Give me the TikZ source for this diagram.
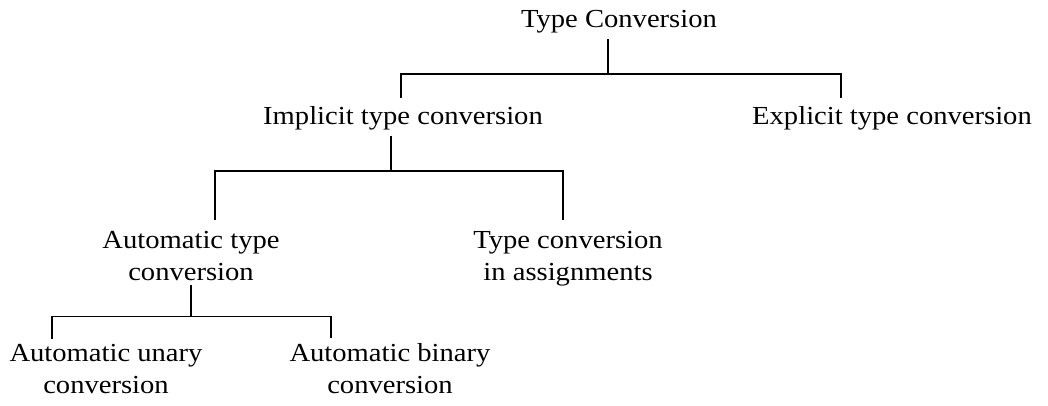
\documentclass[tikz,border=0pt]{standalone}
\usepackage{fontspec}
\setmainfont{Liberation Serif}[FakeStretch=1.1]
\usetikzlibrary{positioning}
\tikzstyle{lbl} = [
	align=center,
	anchor=base,
	inner sep=5pt,
	font=\fontsize{26}{32}\selectfont
	]
\tikzstyle{link} = [
	line width=1.6pt,
	draw
	]

\begin{document}
\begin{tikzpicture}[x=1pt,y=-1pt]
		\useasboundingbox (0,0) rectangle (1048,406);
		\node[lbl] (root) at (619,28) {Type Conversion};
		\node[lbl] (impl) at (403,125) {Implicit type conversion};
		\node[lbl] (expl) at (892,125) {Explicit type conversion};
		\node[lbl] (auto) at (191,280) {Automatic type\\conversion};
		\node[lbl] (assign) at (568,280) {Type conversion\\in assignments};
		\node[lbl] (unary) at (106,393) {Automatic unary\\conversion};
		\node[lbl] (binary) at (390,393) {Automatic binary\\conversion};
		\draw[link] ([xshift=-11pt]root.south) -- ++(0,35) coordinate (b1);
		\draw[link] ([xshift=-2pt,yshift=4pt]impl.north) |- (b1) -| ([xshift=-51pt,yshift=4pt]expl.north);
		\draw[link] ([xshift=-12pt]impl.south) -- ++(0,35) coordinate (b2);
		\draw[link] ([xshift=24pt,yshift=6pt]auto.north) |- (b2) -| ([xshift=-5pt,yshift=6pt]assign.north);
		\draw[link] (auto.south) -- ++(0,31) coordinate (b3);
		\draw[link] ([xshift=-54pt]unary.north) |- (b3) -| ([xshift=-59pt]binary.north);
	\end{tikzpicture}
\end{document}
